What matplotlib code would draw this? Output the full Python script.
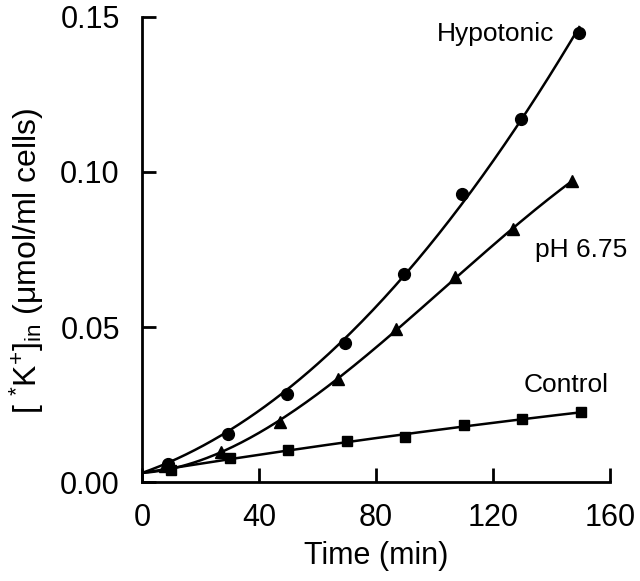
import numpy as np
import matplotlib
matplotlib.use("Agg")
import matplotlib.pyplot as plt

plt.rcParams["font.family"] = ["Liberation Sans", "DejaVu Sans"]
plt.rcParams["mathtext.fontset"] = "custom"
plt.rcParams["mathtext.rm"] = "Liberation Sans"
plt.rcParams["mathtext.it"] = "Liberation Sans:italic"

# Hypotonic (circles)
hypo_t = [9, 29.5, 49.5, 69.5, 89.5, 109.5, 129.5, 149.5]
hypo_k = [0.0058, 0.0155, 0.0284, 0.0450, 0.0672, 0.0930, 0.1172, 0.1448]
# pH 6.75 (triangles)
ph_t = [8, 27, 47, 67, 87, 107, 127, 147]
ph_k = [0.0052, 0.0097, 0.0194, 0.0332, 0.0495, 0.0660, 0.0815, 0.0972]
# Control (squares)
ctrl_t = [10, 30, 50, 70, 90, 110, 130, 150]
ctrl_k = [0.0039, 0.0077, 0.0105, 0.0132, 0.0145, 0.0185, 0.0203, 0.0225]
# value where the fitted curves start at t = 0
k_start = 0.0030


def fit_curve(t, k, deg):
    # polynomial through (0, k_start), least squares on the points
    t = np.asarray(t, float)
    A = np.column_stack([t ** p for p in range(1, deg + 1)])
    c, *_ = np.linalg.lstsq(A, np.asarray(k) - k_start, rcond=None)
    tt = np.linspace(0, t[-1], 200)
    kk = k_start + sum(ci * tt ** (i + 1) for i, ci in enumerate(c))
    return tt, kk


fig = plt.figure(figsize=(6.4, 5.81), dpi=100)
ax = fig.add_axes([0.222, 0.170, 0.731, 0.801])

for t, k, m, ms, deg in [(hypo_t, hypo_k, "o", 8.5, 2),
                         (ph_t, ph_k, "^", 8.5, 3),
                         (ctrl_t, ctrl_k, "s", 7.5, 2)]:
    tt, kk = fit_curve(t, k, deg)
    ax.plot(tt, kk, color="black", lw=1.8, zorder=2)
    ax.plot(t, k, m, color="black", ms=ms, zorder=3)

ax.text(121, 0.1445, "Hypotonic", fontsize=19, ha="center", va="center")
ax.text(150, 0.075, "pH 6.75", fontsize=19, ha="center", va="center")
ax.text(145, 0.0313, "Control", fontsize=19, ha="center", va="center")

ax.set_xlim(0, 160)
ax.set_ylim(0, 0.15)
ax.set_xticks([0, 40, 80, 120, 160])
ax.set_yticks([0, 0.05, 0.10, 0.15])
ax.set_yticklabels(["0.00", "0.05", "0.10", "0.15"])
ax.spines["top"].set_visible(False)
ax.spines["right"].set_visible(False)
for s in ["left", "bottom"]:
    ax.spines[s].set_linewidth(2)
ax.tick_params(direction="in", length=10, width=2, labelsize=22)
ax.tick_params(axis="x", pad=15)
ax.tick_params(axis="y", pad=16)
ax.set_xlabel("Time (min)", fontsize=22, labelpad=6)
ax.set_ylabel(r"[ $^{*}$K$^{+}$]$_{\rm in}$ (μmol/ml cells)", fontsize=23)
ax.yaxis.set_label_coords(-0.205, 0.475)

fig.savefig("out.png", dpi=100)
